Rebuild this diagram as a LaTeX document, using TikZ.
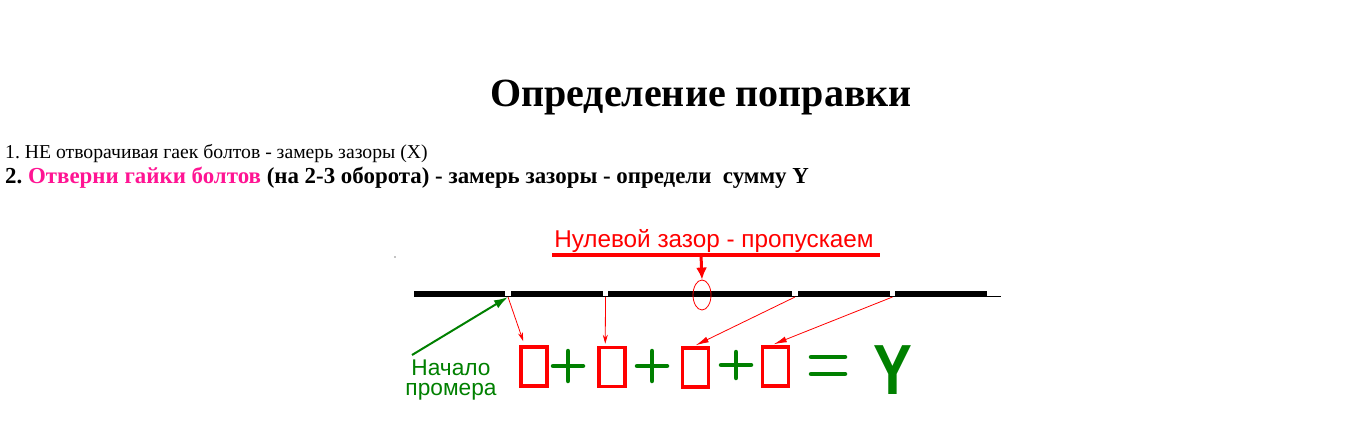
\documentclass[tikz,border=0pt]{standalone}
\usepackage{fontspec}
\setmainfont{Liberation Serif}
\newfontfamily\arialf{Liberation Sans}
\usetikzlibrary{arrows.meta,shapes.geometric}
\definecolor{pinkc}{RGB}{255,20,147}
\definecolor{greenc}{RGB}{0,128,0}
\frenchspacing
\begin{document}
\begin{tikzpicture}[x=1pt,y=-1pt,
  bar/.style={line width=6pt,black},
  gapbox/.style={draw=red,line width=3.5pt,minimum width=26pt,minimum height=39pt,inner sep=0pt},
  thinarrow/.style={red,line width=0.8pt,-{Stealth[length=9pt,width=5pt]}},
  greenline/.style={greenc,line width=4.5pt,line cap=round},
]
\useasboundingbox (0,0) rectangle (1360,438);
% title and texts
\node[anchor=base,inner sep=0pt,font=\bfseries\fontsize{40}{48}\selectfont] (title) at (701,107) {Определение поправки};
\node[anchor=base west,inner sep=0pt,font=\fontsize{19.7}{22}\selectfont] (l1) at (5,158.5) {1. НЕ отворачивая гаек болтов - замерь зазоры (X)};
\node[anchor=base west,inner sep=0pt,font=\bfseries\fontsize{22.9}{26}\selectfont] (l2) at (5,183.5) {2. \textcolor{pinkc}{Отверни гайки болтов} (на 2-3 оборота) - замерь зазоры - определи~ сумму Y};
% red label
\node[anchor=base,inner sep=0pt,text=red,font=\arialf\fontsize{24.3}{28}\selectfont] (zero) at (714,248) {Нулевой зазор - пропускаем};
\coordinate (ulL) at (552,255);
\coordinate (ulR) at (880,255);
\coordinate (ulA) at (701,255);
\draw[red,line width=4pt] (ulL) -- (ulR);
% dot
\fill (395,257) circle (0.6);
% bar
\draw[black,line width=1pt] (414,296.5) -- (1001,296.5);
\draw[bar] (414,294) -- (505,294);
\draw[bar] (511,294) -- (603,294);
\draw[bar] (608,294) -- (792,294);
\draw[bar] (798,294) -- (890,294);
\draw[bar] (895,294) -- (987,294);
\coordinate (g1) at (508,297);
\coordinate (g2) at (605.5,297);
\coordinate (g4) at (795,297);
\coordinate (g5) at (892.5,297);
% zero gap
\node[draw=red,ellipse,line width=0.8pt,minimum width=18pt,minimum height=30pt,inner sep=0pt] (zgap) at (702,295) {};
\draw[red,line width=3pt,-{Latex[length=12pt,width=11pt]}] (ulA) -- (zgap.north);
% boxes
\node[gapbox] (b1) at (534,366.5) {};
\node[gapbox] (b2) at (612,367) {};
\node[gapbox] (b3) at (695.5,367.5) {};
\node[gapbox] (b4) at (775.5,366.5) {};
% arrows to boxes
\draw[thinarrow] (g1) -- ([xshift=4pt,yshift=4pt]b1.north west);
\draw[thinarrow] (g2) -- ([xshift=8pt,yshift=2pt]b2.north west);
\draw[red,line width=0.8pt,-{Latex[length=13pt,width=6pt]}] (g4) -- ([xshift=15pt,yshift=1pt]b3.north west);
\draw[red,line width=0.8pt,-{Latex[length=13pt,width=6pt]}] (g5) -- ([xshift=13pt,yshift=1pt]b4.north west);
% plus signs
\draw[greenline] (553,366) -- (583,366) (568,351) -- (568,381);
\draw[greenline] (637,366) -- (667,366) (652,351) -- (652,381);
\draw[greenline] (721,365) -- (751,365) (736,352) -- (736,378);
% equals
\draw[greenline] (811,357) -- (845,357) (811,374) -- (845,374);
% Y
\node[anchor=base,inner sep=0pt,text=greenc,font=\arialf\bfseries\fontsize{71}{80}\selectfont,xscale=0.82] (ysum) at (893,394) {Y};
% start label
\node[anchor=base,inner sep=0pt,text=greenc,align=center,font=\arialf\fontsize{22.7}{20}\selectfont] (start) at (451,395) {Начало\\промера};
\coordinate (sA) at (412,355);
\draw[greenc,line width=2pt,-{Latex[length=14pt,width=9pt]}] (sA) -- (g1);
\end{tikzpicture}
\end{document}
